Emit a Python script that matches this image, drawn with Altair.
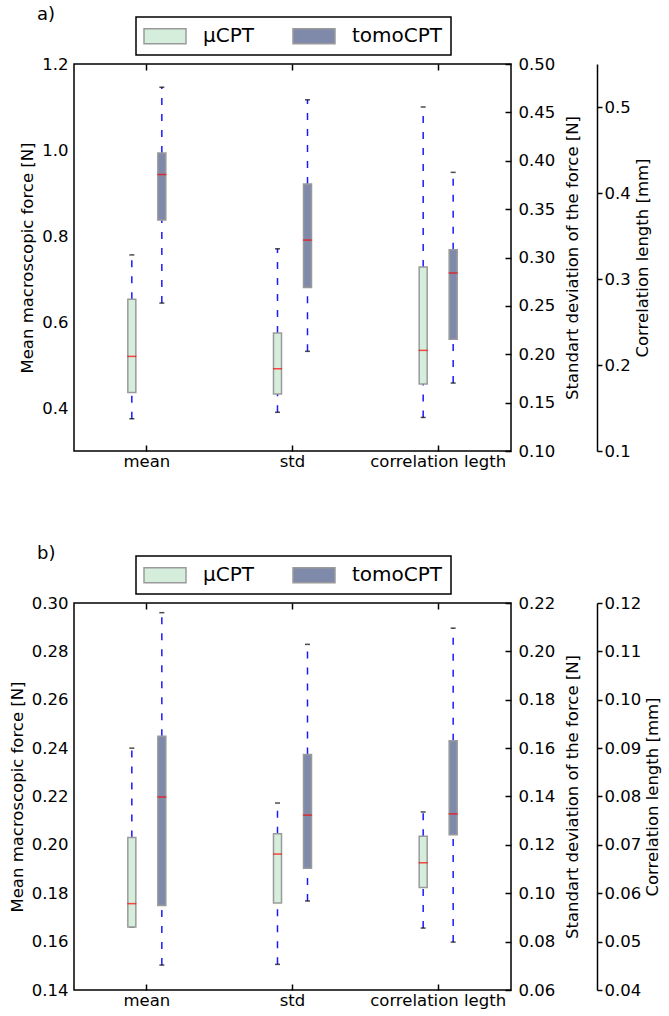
import altair as alt
import pandas as pd

groups = ["mean", "std", "correlation legth"]
series = ["μCPT", "tomoCPT"]
stats = ["low", "q1", "med", "q3", "high"]

# panel a) : whisker low, q1, median, q3, whisker high
a_mean_mu = [0.375, 0.436, 0.520, 0.653, 0.756]
a_mean_tomo = [0.644, 0.837, 0.943, 0.993, 1.146]
a_std_mu = [0.140, 0.159, 0.185, 0.222, 0.309]
a_std_tomo = [0.203, 0.269, 0.318, 0.376, 0.463]
a_corr_mu = [0.139, 0.178, 0.217, 0.314, 0.500]
a_corr_tomo = [0.179, 0.230, 0.307, 0.334, 0.424]

# panel b)
b_mean_mu = [0.166, 0.166, 0.1757, 0.203, 0.240]
b_mean_tomo = [0.1503, 0.1749, 0.2198, 0.2449, 0.296]
b_std_mu = [0.0706, 0.096, 0.1162, 0.1246, 0.1373]
b_std_tomo = [0.0968, 0.1103, 0.1323, 0.1574, 0.2029]
b_corr_mu = [0.0528, 0.0612, 0.0663, 0.0718, 0.0768]
b_corr_tomo = [0.0499, 0.0721, 0.0764, 0.0915, 0.1148]

# axis domains and tick values
a_left_dom = [0.3, 1.2]
a_left_ticks = [0.4, 0.6, 0.8, 1.0, 1.2]
a_std_dom = [0.10, 0.50]
a_std_ticks = [0.10, 0.15, 0.20, 0.25, 0.30, 0.35, 0.40, 0.45, 0.50]
a_corr_dom = [0.1, 0.55]
a_corr_ticks = [0.1, 0.2, 0.3, 0.4, 0.5]

b_left_dom = [0.14, 0.30]
b_left_ticks = [0.14, 0.16, 0.18, 0.20, 0.22, 0.24, 0.26, 0.28, 0.30]
b_std_dom = [0.06, 0.22]
b_std_ticks = [0.06, 0.08, 0.10, 0.12, 0.14, 0.16, 0.18, 0.20, 0.22]
b_corr_dom = [0.04, 0.12]
b_corr_ticks = [0.04, 0.05, 0.06, 0.07, 0.08, 0.09, 0.10, 0.11, 0.12]

FONT = "DejaVu Sans"
FS = 16.5
W, H = 437, 387
COLORS = ["#d5eedc", "#7f8aab"]
BOX_STROKE = "#9a9a9a"
WHISK = "#1a1aff"


def group_df(group, mu, tomo):
    rows = []
    for s, vals in zip(series, [mu, tomo]):
        row = {"group": group, "series": s}
        row.update(dict(zip(stats, vals)))
        rows.append(row)
    return pd.DataFrame(rows)


def group_layer(df, ydom, yaxis, xaxis, legend):
    pi = 1 - 60 / (W / 3)
    x = alt.X("group:N", title=None,
              scale=alt.Scale(domain=groups, paddingInner=pi, paddingOuter=pi / 2),
              axis=xaxis)
    xo = alt.XOffset("series:N",
                     scale=alt.Scale(domain=series, paddingInner=0.733, paddingOuter=0.3665))
    ysc = alt.Scale(domain=ydom, nice=False, zero=False)

    def Y(f):
        return alt.Y(f"{f}:Q", scale=ysc, axis=yaxis)

    base = alt.Chart(df).encode(x=x, xOffset=xo)
    w_lo = base.mark_rule(color=WHISK, strokeWidth=1.5, strokeDash=[7, 9]).encode(
        y=Y("low"), y2="q1")
    w_hi = base.mark_rule(color=WHISK, strokeWidth=1.5, strokeDash=[7, 9]).encode(
        y=Y("q3"), y2="high")
    cap_lo = base.mark_tick(color="black", size=5, thickness=1.5).encode(y=Y("low"))
    cap_hi = base.mark_tick(color="black", size=5, thickness=1.5).encode(y=Y("high"))
    box = base.mark_bar(stroke=BOX_STROKE, strokeWidth=1.5, opacity=1).encode(
        y=Y("q1"), y2="q3",
        color=alt.Color("series:N", scale=alt.Scale(domain=series, range=COLORS),
                        legend=legend))
    med = base.mark_tick(color="red", size=9, thickness=1.5).encode(y=Y("med"))
    return alt.layer(w_lo, w_hi, cap_lo, cap_hi, box, med)


def panel(title, mean_mu, mean_tomo, std_mu, std_tomo, corr_mu, corr_tomo,
          left_dom, left_ticks, left_fmt, std_dom, std_ticks, std_fmt,
          corr_dom, corr_ticks, corr_fmt):
    legend = alt.Legend(
        orient="none", legendX=62, legendY=-47, direction="horizontal", title=None,
        symbolType="M-2.1,-0.75L2.1,-0.75L2.1,0.75L-2.1,0.75Z", symbolSize=400,
        symbolOffset=10,
        symbolStrokeColor=BOX_STROKE, symbolStrokeWidth=1.5, symbolOpacity=1,
        labelFont=FONT, labelFontSize=20, labelColor="black", labelOffset=27,
        columnPadding=36, strokeColor="black", fillColor="white",
        padding=8,
    )
    left_axis = alt.Axis(orient="left", values=left_ticks, format=left_fmt, domain=False,
                         ticks=False, labelPadding=6, title="Mean macroscopic force [N]",
                         titlePadding=6)
    std_axis = alt.Axis(orient="right", values=std_ticks, format=std_fmt, domain=False,
                        ticks=True, tickSize=6, tickWidth=1.5, offset=-6, labelPadding=7,
                        title="Standart deviation of the force [N]", titleAngle=270,
                        titleBaseline="top", titlePadding=10)
    corr_axis = alt.Axis(orient="right", values=corr_ticks, format=corr_fmt, domain=True,
                         domainWidth=1.5, ticks=True, tickSize=5, tickWidth=1.5, offset=86,
                         labelPadding=2, title="Correlation length [mm]", titleAngle=270,
                         titleBaseline="top", titlePadding=4)
    bottom_x = alt.Axis(orient="bottom", labelAngle=0, domain=False, ticks=True, tickSize=6,
                        tickWidth=1.5, offset=-6, labelPadding=2, labelFontSize=FS)
    top_x = alt.Axis(orient="top", labels=False, domain=False, ticks=True, tickSize=6,
                     tickWidth=1.5, offset=-6)

    l_mean = group_layer(group_df(groups[0], mean_mu, mean_tomo), left_dom, left_axis,
                         bottom_x, legend)
    l_std = group_layer(group_df(groups[1], std_mu, std_tomo), std_dom, std_axis,
                        top_x, legend)
    l_corr = group_layer(group_df(groups[2], corr_mu, corr_tomo), corr_dom, corr_axis,
                         None, legend)
    return alt.layer(l_mean, l_std, l_corr).resolve_scale(y="independent").resolve_axis(
        x="independent", y="independent").properties(
        width=W, height=H,
        title=alt.Title(title, anchor="start", frame="group", dx=-37, offset=-8,
                        fontSize=18, font=FONT, fontWeight="normal", color="black"))


pa = panel("a)", a_mean_mu, a_mean_tomo, a_std_mu, a_std_tomo, a_corr_mu, a_corr_tomo,
           a_left_dom, a_left_ticks, ".1f", a_std_dom, a_std_ticks, ".2f",
           a_corr_dom, a_corr_ticks, ".1f")
pb = panel("b)", b_mean_mu, b_mean_tomo, b_std_mu, b_std_tomo, b_corr_mu, b_corr_tomo,
           b_left_dom, b_left_ticks, ".2f", b_std_dom, b_std_ticks, ".2f",
           b_corr_dom, b_corr_ticks, ".2f")

chart = alt.vconcat(pa, pb, spacing=73).resolve_scale(color="independent").properties(
    padding={"left": 8, "top": 5, "right": 0, "bottom": 0}
).configure_view(stroke="black", strokeWidth=1.5).configure_axis(
    labelFont=FONT, titleFont=FONT, labelFontSize=FS, titleFontSize=FS,
    titleFontWeight="normal", labelColor="black", titleColor="black",
    tickColor="black", domainColor="black", grid=False
).configure_title(font=FONT, fontSize=18, fontWeight="normal", anchor="start"
).configure_legend(strokeWidth=1.5)

chart.save("out.html", embed_options={"renderer": "svg", "actions": False})
